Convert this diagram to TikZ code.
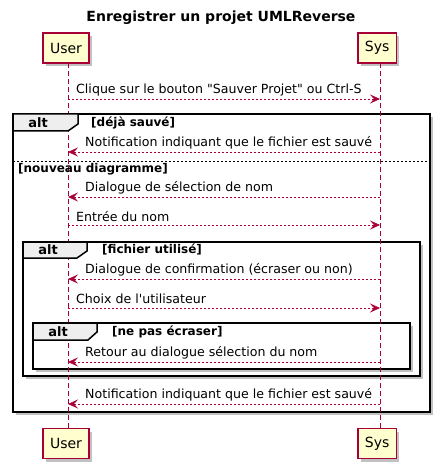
\documentclass[tikz,border=0pt]{standalone}
\usepackage{fontspec}
\setmainfont{DejaVu Sans}
\newfontfamily\dv{DejaVu Sans}
\usetikzlibrary{arrows.meta,shadows}
\definecolor{pcol}{HTML}{A80036}
\definecolor{pfill}{HTML}{FEFECE}
\definecolor{tabfill}{HTML}{EEEEEE}
\begin{document}
\begin{tikzpicture}[x=1pt,y=-1pt,
  shadowed/.style={drop shadow={shadow xshift=3pt,shadow yshift=-3pt,fill=black!30,opacity=0.8}},
  participant/.style={draw=pcol,fill=pfill,line width=1.2pt,inner sep=0pt,minimum height=30pt,
     font=\dv\fontsize{14}{16}\selectfont,shadowed},
  lifeline/.style={draw=pcol,line width=0.6pt,dash pattern=on 5pt off 3pt},
  msg/.style={draw=pcol,line width=0.6pt,dash pattern=on 2pt off 2pt,
     -{Stealth[length=10pt,width=9pt,inset=4pt]}},
  msgtext/.style={anchor=west,inner sep=0pt,font=\dv\fontsize{12.6}{15}\selectfont},
  frame/.style={draw=black,line width=1.5pt,fill=white,shadowed},
  tab/.style={draw=black,line width=1.5pt,fill=tabfill},
  tablabel/.style={font=\dv\bfseries\fontsize{13}{15}\selectfont,inner sep=0pt},
  guard/.style={anchor=west,inner sep=0pt,font=\dv\bfseries\fontsize{12}{14}\selectfont},
  sep/.style={draw=black,line width=0.6pt,dash pattern=on 2pt off 2pt}]
\useasboundingbox (0,0) rectangle (441,470);
\fill[white] (0,0) rectangle (441,470);
% title
\node[font=\dv\bfseries\fontsize{14}{16}\selectfont,inner sep=0pt] (title) at (221,18) {Enregistrer un projet UMLReverse};
% participants
\node[participant,minimum width=46pt] (ut) at (66,48) {User};
\node[participant,minimum width=38.5pt] (st) at (377.2,48) {Sys};
\node[participant,minimum width=46pt] (ub) at (66,443.5) {User};
\node[participant,minimum width=38.5pt] (sb) at (377.2,443.5) {Sys};
% frames
\draw[frame] (13,114) rectangle (430,412);
\draw[frame] (23,242) rectangle (420,376);
\draw[frame] (33,323) rectangle (410,369);
% lifelines
\coordinate (ul0) at (68,63); \coordinate (ul1) at (68,428);
\coordinate (sl0) at (380,63); \coordinate (sl1) at (380,428);
\draw[lifeline] (ul0) -- (ul1);
\draw[lifeline] (sl0) -- (sl1);
% outer alt
\draw[tab] (13,114) -- (78,114) -- (78,124) -- (68,131) -- (13,131) -- cycle;
\node[tablabel] (alt1) at (38,123) {alt};
\node[guard] (g1) at (91,123) {[déjà sauvé]};
\draw[sep] (13,161) -- (430,161);
\node[guard] (g2) at (18,169) {[nouveau diagramme]};
% inner alt 1
\draw[tab] (23,242) -- (87,242) -- (87,251) -- (77,258) -- (23,258) -- cycle;
\node[tablabel] (alt2) at (48,250) {alt};
\node[guard] (g3) at (102,249.5) {[fichier utilisé]};
% inner alt 2
\draw[tab] (33,323) -- (97,323) -- (97,332) -- (88,340) -- (33,340) -- cycle;
\node[tablabel] (alt3) at (58,332) {alt};
\node[guard] (g4) at (112,331.5) {[ne pas écraser]};
% messages
\foreach \n/\y in {1/99,2/152,3/197,4/225,5/279,6/308,7/362,8/404}{
  \coordinate (mu\n) at (68,\y); \coordinate (ms\n) at (380,\y);}
\draw[msg] (mu1) -- (ms1);
\node[msgtext] (t1) at (76,90) {Clique sur le bouton "Sauver Projet" ou Ctrl-S};
\draw[msg] (ms2) -- (mu2);
\node[msgtext] (t2) at (85,143) {Notification indiquant que le fichier est sauvé};
\draw[msg] (ms3) -- (mu3);
\node[msgtext] (t3) at (85,187.5) {Dialogue de sélection de nom};
\draw[msg] (mu4) -- (ms4);
\node[msgtext] (t4) at (76,216.5) {Entrée du nom};
\draw[msg] (ms5) -- (mu5);
\node[msgtext] (t5) at (85,269.5) {Dialogue de confirmation (écraser ou non)};
\draw[msg] (mu6) -- (ms6);
\node[msgtext] (t6) at (76,298.5) {Choix de l'utilisateur};
\draw[msg] (ms7) -- (mu7);
\node[msgtext] (t7) at (85,352.5) {Retour au dialogue sélection du nom};
\draw[msg] (ms8) -- (mu8);
\node[msgtext] (t8) at (85,395) {Notification indiquant que le fichier est sauvé};
\end{tikzpicture}
\end{document}
